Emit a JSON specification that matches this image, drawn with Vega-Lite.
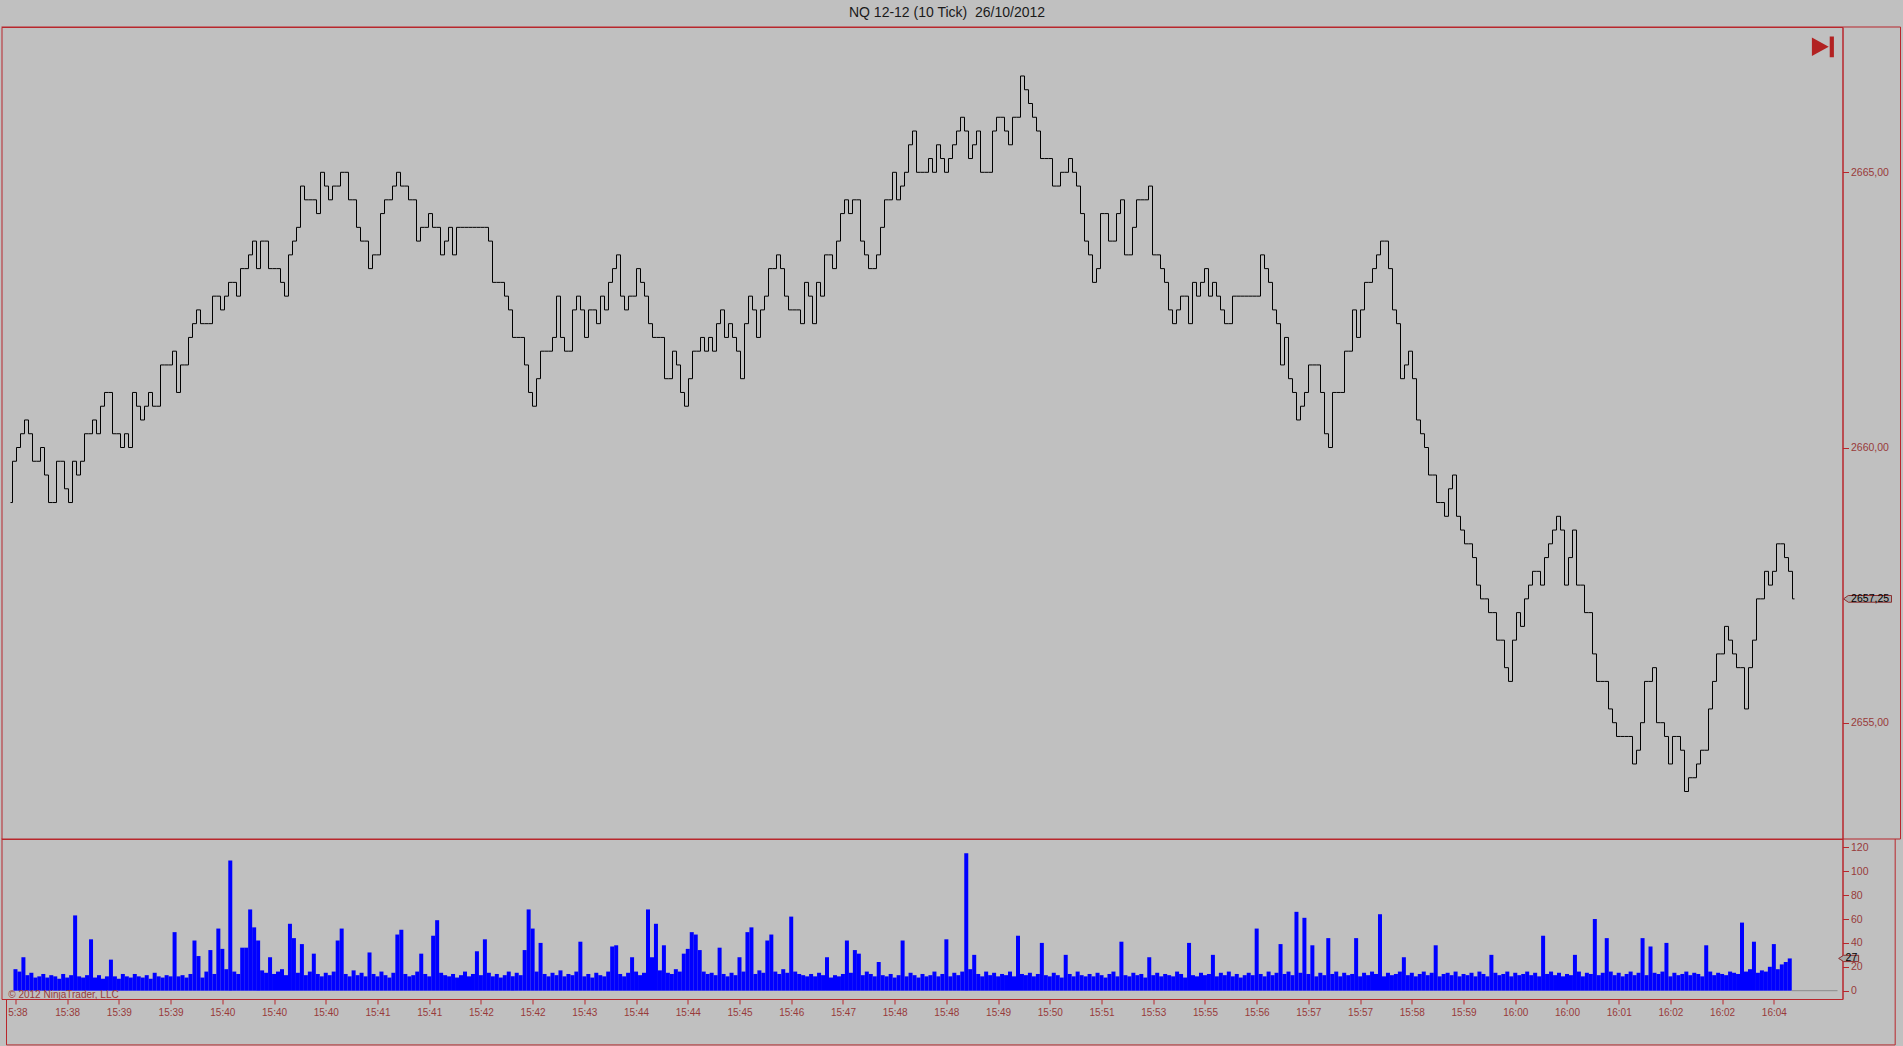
{
  "$schema": "https://vega.github.io/schema/vega-lite/v6.json",
  "background": "#C0C0C0",
  "padding": {"left": 0.5, "top": 6, "right": 2, "bottom": 0},
  "autosize": {"type": "pad"},
  "bounds": "flush",
  "spacing": 0,
  "title": {"text": "NQ 12-12 (10 Tick) \u00a026/10/2012", "fontSize": 14, "font": "Liberation Sans", "fontWeight": "normal", "color": "#1a1a1a", "anchor": "middle", "offset": -8, "dx": -4, "baseline": "bottom"},
  "config": {
    "font": "Liberation Sans",
    "view": {"stroke": "#B8272C", "strokeWidth": 1, "fill": null},
    "axis": {"grid": false, "domainColor": "#B8272C", "tickColor": "#B8272C", "labelColor": "#983A3A", "labelFont": "Liberation Sans", "labelFlush": false, "labelOverlap": false, "labelBound": false}
  },
  "datasets": {
    "nq": [
{"i":0,"p":2659,"v":18},{"i":1,"p":2659.75,"v":16},{"i":2,"p":2660,"v":28},{"i":3,"p":2660.25,"v":13},{"i":4,"p":2660.5,"v":15},{"i":5,"p":2660.25,"v":11},{"i":6,"p":2659.75,"v":12},{"i":7,"p":2659.75,"v":14},{"i":8,"p":2660,"v":11},{"i":9,"p":2659.5,"v":13},
{"i":10,"p":2659,"v":12},{"i":11,"p":2659,"v":10},{"i":12,"p":2659.75,"v":14},{"i":13,"p":2659.75,"v":11},{"i":14,"p":2659.25,"v":13},{"i":15,"p":2659,"v":63},{"i":16,"p":2659.75,"v":12},{"i":17,"p":2659.5,"v":11},{"i":18,"p":2659.75,"v":13},{"i":19,"p":2660.25,"v":43},
{"i":20,"p":2660.25,"v":11},{"i":21,"p":2660.5,"v":13},{"i":22,"p":2660.25,"v":10},{"i":23,"p":2660.75,"v":12},{"i":24,"p":2661,"v":26},{"i":25,"p":2661,"v":12},{"i":26,"p":2660.25,"v":10},{"i":27,"p":2660.25,"v":14},{"i":28,"p":2660,"v":12},{"i":29,"p":2660.25,"v":11},
{"i":30,"p":2660,"v":14},{"i":31,"p":2661,"v":12},{"i":32,"p":2660.75,"v":11},{"i":33,"p":2660.5,"v":13},{"i":34,"p":2660.75,"v":10},{"i":35,"p":2661,"v":15},{"i":36,"p":2660.75,"v":12},{"i":37,"p":2660.75,"v":11},{"i":38,"p":2661.5,"v":13},{"i":39,"p":2661.5,"v":12},
{"i":40,"p":2661.5,"v":49},{"i":41,"p":2661.75,"v":12},{"i":42,"p":2661,"v":13},{"i":43,"p":2661.5,"v":11},{"i":44,"p":2661.5,"v":14},{"i":45,"p":2662,"v":42},{"i":46,"p":2662.25,"v":29},{"i":47,"p":2662.5,"v":11},{"i":48,"p":2662.25,"v":16},{"i":49,"p":2662.25,"v":34},
{"i":50,"p":2662.25,"v":14},{"i":51,"p":2662.75,"v":52},{"i":52,"p":2662.75,"v":35},{"i":53,"p":2662.5,"v":18},{"i":54,"p":2662.75,"v":109},{"i":55,"p":2663,"v":16},{"i":56,"p":2663,"v":14},{"i":57,"p":2662.75,"v":36},{"i":58,"p":2663.25,"v":36},{"i":59,"p":2663.25,"v":68},
{"i":60,"p":2663.5,"v":53},{"i":61,"p":2663.75,"v":42},{"i":62,"p":2663.25,"v":17},{"i":63,"p":2663.75,"v":15},{"i":64,"p":2663.75,"v":28},{"i":65,"p":2663.25,"v":14},{"i":66,"p":2663.25,"v":16},{"i":67,"p":2663.25,"v":18},{"i":68,"p":2663,"v":13},{"i":69,"p":2662.75,"v":56},
{"i":70,"p":2663.5,"v":44},{"i":71,"p":2663.75,"v":15},{"i":72,"p":2664,"v":39},{"i":73,"p":2664.75,"v":13},{"i":74,"p":2664.5,"v":16},{"i":75,"p":2664.5,"v":31},{"i":76,"p":2664.5,"v":14},{"i":77,"p":2664.25,"v":12},{"i":78,"p":2665,"v":15},{"i":79,"p":2664.75,"v":13},
{"i":80,"p":2664.5,"v":16},{"i":81,"p":2664.75,"v":42},{"i":82,"p":2664.75,"v":52},{"i":83,"p":2665,"v":14},{"i":84,"p":2665,"v":12},{"i":85,"p":2664.5,"v":17},{"i":86,"p":2664.5,"v":13},{"i":87,"p":2664,"v":15},{"i":88,"p":2663.75,"v":12},{"i":89,"p":2663.75,"v":32},
{"i":90,"p":2663.25,"v":14},{"i":91,"p":2663.5,"v":12},{"i":92,"p":2663.5,"v":16},{"i":93,"p":2664.25,"v":13},{"i":94,"p":2664.5,"v":11},{"i":95,"p":2664.5,"v":15},{"i":96,"p":2664.75,"v":47},{"i":97,"p":2665,"v":51},{"i":98,"p":2664.75,"v":14},{"i":99,"p":2664.75,"v":12},
{"i":100,"p":2664.5,"v":13},{"i":101,"p":2664.5,"v":16},{"i":102,"p":2663.75,"v":31},{"i":103,"p":2664,"v":14},{"i":104,"p":2664,"v":12},{"i":105,"p":2664.25,"v":46},{"i":106,"p":2664,"v":59},{"i":107,"p":2664,"v":15},{"i":108,"p":2663.5,"v":13},{"i":109,"p":2663.75,"v":12},
{"i":110,"p":2664,"v":14},{"i":111,"p":2663.5,"v":11},{"i":112,"p":2664,"v":13},{"i":113,"p":2664,"v":16},{"i":114,"p":2664,"v":12},{"i":115,"p":2664,"v":14},{"i":116,"p":2664,"v":33},{"i":117,"p":2664,"v":13},{"i":118,"p":2664,"v":43},{"i":119,"p":2664,"v":15},
{"i":120,"p":2663.75,"v":12},{"i":121,"p":2663,"v":14},{"i":122,"p":2663,"v":11},{"i":123,"p":2663,"v":13},{"i":124,"p":2662.75,"v":16},{"i":125,"p":2662.5,"v":12},{"i":126,"p":2662,"v":15},{"i":127,"p":2662,"v":13},{"i":128,"p":2662,"v":34},{"i":129,"p":2661.5,"v":68},
{"i":130,"p":2661,"v":52},{"i":131,"p":2660.75,"v":16},{"i":132,"p":2661.25,"v":40},{"i":133,"p":2661.75,"v":14},{"i":134,"p":2661.75,"v":12},{"i":135,"p":2661.75,"v":15},{"i":136,"p":2662,"v":13},{"i":137,"p":2662.75,"v":17},{"i":138,"p":2662,"v":12},{"i":139,"p":2661.75,"v":14},
{"i":140,"p":2661.75,"v":13},{"i":141,"p":2662.5,"v":16},{"i":142,"p":2662.75,"v":41},{"i":143,"p":2662.5,"v":12},{"i":144,"p":2662,"v":14},{"i":145,"p":2662.5,"v":11},{"i":146,"p":2662.5,"v":15},{"i":147,"p":2662.25,"v":13},{"i":148,"p":2662.75,"v":12},{"i":149,"p":2662.5,"v":16},
{"i":150,"p":2663,"v":37},{"i":151,"p":2663.25,"v":38},{"i":152,"p":2663.5,"v":14},{"i":153,"p":2662.75,"v":12},{"i":154,"p":2662.5,"v":15},{"i":155,"p":2662.75,"v":28},{"i":156,"p":2662.75,"v":16},{"i":157,"p":2663.25,"v":13},{"i":158,"p":2663,"v":15},{"i":159,"p":2662.75,"v":68},
{"i":160,"p":2662.25,"v":28},{"i":161,"p":2662,"v":56},{"i":162,"p":2662,"v":17},{"i":163,"p":2662,"v":38},{"i":164,"p":2661.25,"v":15},{"i":165,"p":2661.25,"v":14},{"i":166,"p":2661.75,"v":18},{"i":167,"p":2661.5,"v":16},{"i":168,"p":2661,"v":31},{"i":169,"p":2660.75,"v":35},
{"i":170,"p":2661.25,"v":49},{"i":171,"p":2661.75,"v":47},{"i":172,"p":2661.75,"v":34},{"i":173,"p":2662,"v":16},{"i":174,"p":2661.75,"v":14},{"i":175,"p":2662,"v":15},{"i":176,"p":2661.75,"v":13},{"i":177,"p":2662.25,"v":36},{"i":178,"p":2662.5,"v":14},{"i":179,"p":2662,"v":12},
{"i":180,"p":2662.25,"v":15},{"i":181,"p":2662,"v":13},{"i":182,"p":2661.75,"v":28},{"i":183,"p":2661.25,"v":16},{"i":184,"p":2662.25,"v":49},{"i":185,"p":2662.75,"v":53},{"i":186,"p":2662.5,"v":14},{"i":187,"p":2662,"v":17},{"i":188,"p":2662.5,"v":15},{"i":189,"p":2662.75,"v":42},
{"i":190,"p":2663.25,"v":47},{"i":191,"p":2663.25,"v":16},{"i":192,"p":2663.5,"v":14},{"i":193,"p":2663.25,"v":18},{"i":194,"p":2662.75,"v":15},{"i":195,"p":2662.5,"v":62},{"i":196,"p":2662.5,"v":16},{"i":197,"p":2662.5,"v":14},{"i":198,"p":2662.25,"v":13},{"i":199,"p":2663,"v":12},
{"i":200,"p":2662.75,"v":14},{"i":201,"p":2662.25,"v":12},{"i":202,"p":2663,"v":15},{"i":203,"p":2662.75,"v":13},{"i":204,"p":2663.5,"v":28},{"i":205,"p":2663.5,"v":11},{"i":206,"p":2663.25,"v":13},{"i":207,"p":2663.75,"v":12},{"i":208,"p":2664.25,"v":14},{"i":209,"p":2664.5,"v":42},
{"i":210,"p":2664.25,"v":15},{"i":211,"p":2664.5,"v":34},{"i":212,"p":2664.5,"v":31},{"i":213,"p":2663.75,"v":13},{"i":214,"p":2663.5,"v":16},{"i":215,"p":2663.25,"v":14},{"i":216,"p":2663.25,"v":12},{"i":217,"p":2663.5,"v":24},{"i":218,"p":2664,"v":13},{"i":219,"p":2664.5,"v":12},
{"i":220,"p":2664.5,"v":14},{"i":221,"p":2665,"v":11},{"i":222,"p":2664.5,"v":13},{"i":223,"p":2664.75,"v":42},{"i":224,"p":2665,"v":12},{"i":225,"p":2665.5,"v":15},{"i":226,"p":2665.75,"v":13},{"i":227,"p":2665,"v":11},{"i":228,"p":2665,"v":14},{"i":229,"p":2665,"v":12},
{"i":230,"p":2665.25,"v":13},{"i":231,"p":2665,"v":16},{"i":232,"p":2665.5,"v":12},{"i":233,"p":2665.25,"v":14},{"i":234,"p":2665,"v":43},{"i":235,"p":2665.25,"v":12},{"i":236,"p":2665.5,"v":15},{"i":237,"p":2665.75,"v":13},{"i":238,"p":2666,"v":16},{"i":239,"p":2665.75,"v":115},
{"i":240,"p":2665.25,"v":18},{"i":241,"p":2665.5,"v":30},{"i":242,"p":2665.75,"v":14},{"i":243,"p":2665,"v":12},{"i":244,"p":2665,"v":16},{"i":245,"p":2665,"v":13},{"i":246,"p":2665.75,"v":15},{"i":247,"p":2666,"v":12},{"i":248,"p":2666,"v":14},{"i":249,"p":2665.75,"v":13},
{"i":250,"p":2665.5,"v":16},{"i":251,"p":2666,"v":12},{"i":252,"p":2666,"v":46},{"i":253,"p":2666.75,"v":14},{"i":254,"p":2666.5,"v":13},{"i":255,"p":2666.25,"v":15},{"i":256,"p":2666,"v":12},{"i":257,"p":2665.75,"v":14},{"i":258,"p":2665.25,"v":40},{"i":259,"p":2665.25,"v":13},
{"i":260,"p":2665.25,"v":12},{"i":261,"p":2664.75,"v":15},{"i":262,"p":2664.75,"v":13},{"i":263,"p":2665,"v":11},{"i":264,"p":2665,"v":30},{"i":265,"p":2665.25,"v":14},{"i":266,"p":2665,"v":12},{"i":267,"p":2664.75,"v":16},{"i":268,"p":2664.25,"v":13},{"i":269,"p":2663.75,"v":12},
{"i":270,"p":2663.5,"v":14},{"i":271,"p":2663,"v":12},{"i":272,"p":2663.25,"v":15},{"i":273,"p":2664.25,"v":13},{"i":274,"p":2664.25,"v":11},{"i":275,"p":2663.75,"v":14},{"i":276,"p":2663.75,"v":16},{"i":277,"p":2664.25,"v":12},{"i":278,"p":2664.5,"v":41},{"i":279,"p":2663.5,"v":13},
{"i":280,"p":2663.5,"v":12},{"i":281,"p":2664,"v":15},{"i":282,"p":2664.5,"v":13},{"i":283,"p":2664.5,"v":14},{"i":284,"p":2664.5,"v":11},{"i":285,"p":2664.75,"v":28},{"i":286,"p":2663.5,"v":13},{"i":287,"p":2663.5,"v":15},{"i":288,"p":2663.25,"v":12},{"i":289,"p":2663,"v":14},
{"i":290,"p":2662.5,"v":13},{"i":291,"p":2662.25,"v":12},{"i":292,"p":2662.5,"v":16},{"i":293,"p":2662.75,"v":14},{"i":294,"p":2662.75,"v":11},{"i":295,"p":2662.25,"v":40},{"i":296,"p":2663,"v":13},{"i":297,"p":2662.75,"v":12},{"i":298,"p":2663,"v":15},{"i":299,"p":2663.25,"v":13},
{"i":300,"p":2662.75,"v":14},{"i":301,"p":2663,"v":30},{"i":302,"p":2662.75,"v":12},{"i":303,"p":2662.5,"v":15},{"i":304,"p":2662.25,"v":13},{"i":305,"p":2662.25,"v":16},{"i":306,"p":2662.75,"v":12},{"i":307,"p":2662.75,"v":14},{"i":308,"p":2662.75,"v":11},{"i":309,"p":2662.75,"v":13},
{"i":310,"p":2662.75,"v":15},{"i":311,"p":2662.75,"v":13},{"i":312,"p":2662.75,"v":52},{"i":313,"p":2663.5,"v":14},{"i":314,"p":2663.25,"v":12},{"i":315,"p":2663,"v":16},{"i":316,"p":2662.5,"v":13},{"i":317,"p":2662.25,"v":15},{"i":318,"p":2661.5,"v":39},{"i":319,"p":2662,"v":14},
{"i":320,"p":2661.25,"v":16},{"i":321,"p":2661,"v":13},{"i":322,"p":2660.5,"v":66},{"i":323,"p":2660.75,"v":15},{"i":324,"p":2661,"v":61},{"i":325,"p":2661.5,"v":14},{"i":326,"p":2661.5,"v":38},{"i":327,"p":2661.5,"v":12},{"i":328,"p":2661,"v":15},{"i":329,"p":2660.25,"v":13},
{"i":330,"p":2660,"v":44},{"i":331,"p":2661,"v":14},{"i":332,"p":2661,"v":16},{"i":333,"p":2661,"v":12},{"i":334,"p":2661.75,"v":15},{"i":335,"p":2661.75,"v":13},{"i":336,"p":2662.5,"v":14},{"i":337,"p":2662,"v":44},{"i":338,"p":2662.5,"v":12},{"i":339,"p":2663,"v":15},
{"i":340,"p":2663,"v":13},{"i":341,"p":2663.25,"v":16},{"i":342,"p":2663.5,"v":14},{"i":343,"p":2663.75,"v":64},{"i":344,"p":2663.75,"v":12},{"i":345,"p":2663.25,"v":15},{"i":346,"p":2662.5,"v":13},{"i":347,"p":2662.25,"v":14},{"i":348,"p":2661.25,"v":16},{"i":349,"p":2661.5,"v":28},
{"i":350,"p":2661.75,"v":13},{"i":351,"p":2661.25,"v":15},{"i":352,"p":2660.5,"v":12},{"i":353,"p":2660.25,"v":14},{"i":354,"p":2660,"v":16},{"i":355,"p":2659.5,"v":13},{"i":356,"p":2659.5,"v":15},{"i":357,"p":2659,"v":38},{"i":358,"p":2659,"v":12},{"i":359,"p":2658.75,"v":14},
{"i":360,"p":2659.25,"v":15},{"i":361,"p":2659.5,"v":13},{"i":362,"p":2658.75,"v":16},{"i":363,"p":2658.5,"v":12},{"i":364,"p":2658.25,"v":14},{"i":365,"p":2658.25,"v":13},{"i":366,"p":2658,"v":15},{"i":367,"p":2657.5,"v":12},{"i":368,"p":2657.25,"v":16},{"i":369,"p":2657.25,"v":14},
{"i":370,"p":2657,"v":12},{"i":371,"p":2657,"v":30},{"i":372,"p":2656.5,"v":15},{"i":373,"p":2656.5,"v":13},{"i":374,"p":2656,"v":14},{"i":375,"p":2655.75,"v":16},{"i":376,"p":2656.5,"v":12},{"i":377,"p":2657,"v":15},{"i":378,"p":2656.75,"v":13},{"i":379,"p":2657.25,"v":14},
{"i":380,"p":2657.5,"v":16},{"i":381,"p":2657.75,"v":13},{"i":382,"p":2657.75,"v":15},{"i":383,"p":2657.5,"v":12},{"i":384,"p":2658,"v":46},{"i":385,"p":2658.25,"v":14},{"i":386,"p":2658.5,"v":16},{"i":387,"p":2658.75,"v":13},{"i":388,"p":2658.5,"v":15},{"i":389,"p":2657.5,"v":12},
{"i":390,"p":2658,"v":14},{"i":391,"p":2658.5,"v":13},{"i":392,"p":2657.5,"v":30},{"i":393,"p":2657.5,"v":16},{"i":394,"p":2657,"v":12},{"i":395,"p":2657,"v":15},{"i":396,"p":2656.25,"v":14},{"i":397,"p":2655.75,"v":60},{"i":398,"p":2655.75,"v":13},{"i":399,"p":2655.75,"v":15},
{"i":400,"p":2655.25,"v":44},{"i":401,"p":2655,"v":16},{"i":402,"p":2654.75,"v":13},{"i":403,"p":2654.75,"v":15},{"i":404,"p":2654.75,"v":12},{"i":405,"p":2654.75,"v":14},{"i":406,"p":2654.25,"v":16},{"i":407,"p":2654.5,"v":13},{"i":408,"p":2655,"v":15},{"i":409,"p":2655.75,"v":44},
{"i":410,"p":2655.75,"v":13},{"i":411,"p":2656,"v":37},{"i":412,"p":2655,"v":15},{"i":413,"p":2655,"v":14},{"i":414,"p":2654.75,"v":16},{"i":415,"p":2654.25,"v":40},{"i":416,"p":2654.75,"v":12},{"i":417,"p":2654.75,"v":15},{"i":418,"p":2654.5,"v":13},{"i":419,"p":2653.75,"v":14},
{"i":420,"p":2654,"v":16},{"i":421,"p":2654,"v":13},{"i":422,"p":2654.25,"v":15},{"i":423,"p":2654.5,"v":14},{"i":424,"p":2654.5,"v":12},{"i":425,"p":2655.25,"v":38},{"i":426,"p":2655.75,"v":16},{"i":427,"p":2656.25,"v":13},{"i":428,"p":2656.25,"v":15},{"i":429,"p":2656.75,"v":14},
{"i":430,"p":2656.5,"v":13},{"i":431,"p":2656.25,"v":16},{"i":432,"p":2656,"v":15},{"i":433,"p":2656,"v":14},{"i":434,"p":2655.25,"v":57},{"i":435,"p":2656,"v":16},{"i":436,"p":2656.5,"v":18},{"i":437,"p":2657.25,"v":41},{"i":438,"p":2657.25,"v":15},{"i":439,"p":2657.75,"v":17},
{"i":440,"p":2657.5,"v":16},{"i":441,"p":2657.75,"v":20},{"i":442,"p":2658.25,"v":39},{"i":443,"p":2658.25,"v":18},{"i":444,"p":2658,"v":22},{"i":445,"p":2657.75,"v":24},{"i":446,"p":2657.25,"v":27}
    ]
  },
  "vconcat": [
    {
      "width": 1841,
      "height": 812,
      "layer": [
        {
          "data": {"name": "nq"},
          "mark": {"type": "line", "color": "#000000", "strokeWidth": 1, "interpolate": "step"},
          "encoding": {
            "x": {"field": "i", "type": "quantitative", "scale": {"domain": [-2.25, 458], "nice": false, "zero": false}, "axis": null},
            "y": {"field": "p", "type": "quantitative", "scale": {"domain": [2652.887, 2667.64], "nice": false, "zero": false},
                  "axis": {"orient": "right", "values": [2655, 2660, 2665], "labelExpr": "replace(format(datum.value, '.2f'), '.', ',')", "title": null, "tickSize": 6, "labelPadding": 2, "labelFontSize": 10.5, "domain": true, "labelOverlap": false, "labelFlush": false}}
          }
        },
        {
          "data": {"values": [{}]},
          "mark": {"type": "rule", "color": "#B8272C", "strokeWidth": 1},
          "encoding": {"x": {"datum": -2.25, "type": "quantitative"}, "x2": {"datum": 472.5}, "y": {"datum": 2667.64, "type": "quantitative"}}
        },
        {
          "data": {"values": [{}]},
          "mark": {"type": "rule", "color": "#B8272C", "strokeWidth": 1},
          "encoding": {"x": {"datum": -2.25, "type": "quantitative"}, "x2": {"datum": 472.5}, "y": {"datum": 2652.887, "type": "quantitative"}}
        },
        {
          "data": {"values": [{}]},
          "mark": {"type": "rule", "color": "#B8272C", "strokeWidth": 1},
          "encoding": {"x": {"datum": 472.5, "type": "quantitative"}, "y": {"datum": 2667.64, "type": "quantitative"}, "y2": {"datum": 2652.887}}
        },
        {
          "data": {"values": [{}]},
          "mark": {"type": "point", "filled": true, "shape": "M -1 -0.84 L 0.53 0 L -1 0.84 Z M 0.62 -0.94 L 1 -0.94 L 1 0.94 L 0.62 0.94 Z", "size": 484, "color": "#B22222", "opacity": 1, "strokeWidth": 0},
          "encoding": {"x": {"datum": 453.1, "type": "quantitative"}, "y": {"datum": 2667.28, "type": "quantitative"}}
        },
        {
          "data": {"values": [{"last": 2657.25}]},
          "mark": {"type": "point", "filled": true, "shape": "M -1 0 L -0.8 -0.14 L 1 -0.14 L 1 0.14 L -0.8 0.14 Z", "size": 2304, "fill": "#A9A9A9", "stroke": "#8B2E2E", "strokeWidth": 1, "opacity": 1},
          "encoding": {"x": {"datum": 464.25, "type": "quantitative"}, "y": {"field": "last", "type": "quantitative"}}
        },
        {
          "data": {"values": [{"last": 2657.25, "label": "2657,25"}]},
          "mark": {"type": "text", "font": "Liberation Sans", "fontSize": 10.5, "color": "#000000", "align": "center", "baseline": "middle"},
          "encoding": {"x": {"datum": 464.9, "type": "quantitative"}, "y": {"field": "last", "type": "quantitative"}, "text": {"field": "label"}}
        }
      ]
    },
    {
      "width": 1841,
      "height": 160,
      "resolve": {"axis": {"x": "independent", "y": "independent"}},
      "layer": [
        {
          "data": {"name": "nq"},
          "mark": {"type": "bar", "color": "#0000FF", "size": 4, "opacity": 1},
          "encoding": {
            "x": {"field": "i", "type": "quantitative", "scale": {"domain": [-2.25, 458], "nice": false, "zero": false},
                  "axis": {"orient": "bottom", "values": [0,13,26,39,52,65,78,91,104,117,130,143,156,169,182,195,208,221,234,247,260,273,286,299,312,325,338,351,364,377,390,403,416,429,442],
                           "labelExpr": "['5:38','15:38','15:39','15:39','15:40','15:40','15:40','15:41','15:41','15:42','15:42','15:43','15:44','15:44','15:45','15:46','15:47','15:48','15:48','15:49','15:50','15:51','15:53','15:55','15:56','15:57','15:57','15:58','15:59','16:00','16:00','16:01','16:02','16:02','16:04'][round(datum.value / 13)]",
                           "labelOffset": {"condition": {"test": "datum.value == 0", "value": 2}, "value": 0},
                           "title": null, "tickSize": 5, "labelPadding": 3, "labelFontSize": 10, "labelOverlap": false, "labelFlush": false}},
            "y": {"field": "v", "type": "quantitative", "scale": {"domain": [-6.95, 126.95], "nice": false, "zero": false},
                  "axis": {"orient": "right", "values": [0, 20, 40, 60, 80, 100, 120], "format": "d", "title": null, "tickSize": 6, "labelPadding": 2, "labelFontSize": 10.5, "labelOverlap": false, "labelFlush": false}}
          }
        },
        {
          "data": {"values": [{}]},
          "mark": {"type": "rule", "color": "#8C8C8C", "strokeWidth": 1},
          "encoding": {"x": {"datum": 446.5, "type": "quantitative", "axis": null}, "x2": {"datum": 458}, "y": {"datum": 0, "type": "quantitative", "axis": null}}
        },
        {
          "data": {"values": [{"t": "© 2012 NinjaTrader, LLC"}]},
          "mark": {"type": "text", "font": "Liberation Sans", "fontSize": 10, "color": "#983A3A", "align": "left", "baseline": "middle"},
          "encoding": {"x": {"datum": -1.8, "type": "quantitative", "axis": null}, "y": {"datum": -3.35, "type": "quantitative", "axis": null}, "text": {"field": "t"}}
        },
        {
          "data": {"values": [{}]},
          "mark": {"type": "rule", "color": "#B8272C", "strokeWidth": 1},
          "encoding": {"x": {"datum": 472.5, "type": "quantitative", "axis": null}, "y": {"datum": 126.95, "type": "quantitative", "axis": null}, "y2": {"datum": -45.4}}
        },
        {
          "data": {"values": [{}]},
          "mark": {"type": "rule", "color": "#B8272C", "strokeWidth": 1},
          "encoding": {"x": {"datum": -2.25, "type": "quantitative", "axis": null}, "x2": {"datum": 472.5}, "y": {"datum": -45.4, "type": "quantitative", "axis": null}}
        },
        {
          "data": {"values": [{}]},
          "mark": {"type": "rule", "color": "#B8272C", "strokeWidth": 1},
          "encoding": {"x": {"datum": -2.25, "type": "quantitative", "axis": null}, "y": {"datum": -6.95, "type": "quantitative", "axis": null}, "y2": {"datum": -45.4}}
        },
        {
          "data": {"values": [{"last": 27}]},
          "mark": {"type": "point", "filled": true, "shape": "M -1 0 L -0.5 -0.315 L 1 -0.315 L 1 0.315 L -0.5 0.315 Z", "size": 400, "fill": "#A9A9A9", "stroke": "#8B2E2E", "strokeWidth": 1, "opacity": 1},
          "encoding": {"x": {"datum": 460.8, "type": "quantitative", "axis": null}, "y": {"field": "last", "type": "quantitative", "axis": null}}
        },
        {
          "data": {"values": [{"last": 27, "label": "27"}]},
          "mark": {"type": "text", "font": "Liberation Sans", "fontSize": 10.5, "color": "#000000", "align": "center", "baseline": "middle"},
          "encoding": {"x": {"datum": 461.5, "type": "quantitative", "axis": null}, "y": {"field": "last", "type": "quantitative", "axis": null}, "text": {"field": "label"}}
        }
      ]
    }
  ]
}
